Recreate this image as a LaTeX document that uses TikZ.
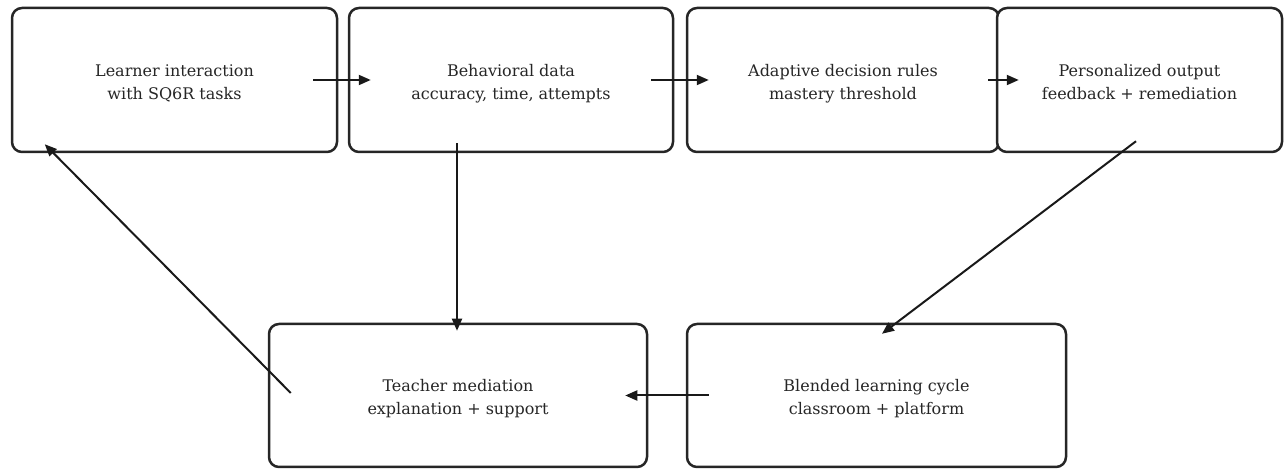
\documentclass[tikz,border=0pt]{standalone}
\usepackage{fontspec}
\setmainfont{DejaVu Serif}
\usetikzlibrary{arrows.meta,calc}
\newcommand{\toppad}{\rule{0pt}{22pt}}
\begin{document}
\begin{tikzpicture}[x=1pt,y=1pt,
  box/.style={draw=black!85, line width=2.5pt, rounded corners=10pt, fill=white,
    minimum height=144pt, align=center, inner sep=0pt,
    font=\fontsize{16}{23}\selectfont, text=black!85},
  arr/.style={draw=black!90, line width=2pt, -{Triangle[length=12pt,width=10pt]}}]
\useasboundingbox (0,0) rectangle (1285,471);
\node[box, minimum width=325pt] (b1) at (174.5,391) {\toppad Learner interaction\\with SQ6R tasks\strut};
\node[box, minimum width=324pt] (b2) at (511,391) {\toppad Behavioral data\\accuracy, time, attempts\strut};
\node[box, minimum width=312pt] (b3) at (843,391) {\toppad Adaptive decision rules\\mastery threshold\strut};
\node[box, minimum width=285pt] (b4) at (1139.5,391) {\toppad Personalized output\\feedback + remediation\strut};
\node[box, minimum width=378pt, minimum height=143pt] (b5) at (458,75.5) {\toppad Teacher mediation\\explanation + support\strut};
\node[box, minimum width=379pt, minimum height=143pt] (b6) at (876.5,75.5) {\toppad Blended learning cycle\\classroom + platform\strut};
\draw[arr] ($(b1.east)+(-25,0)$) -- ($(b2.west)+(23,0)$);
\draw[arr] ($(b2.east)+(-23,0)$) -- ($(b3.west)+(23,0)$);
\draw[arr] ($(b3.east)+(-12,0)$) -- ($(b4.west)+(23,0)$);
\draw[arr] ($(b2.south)+(-54,10)$) -- ($(b5.north)+(-1,-8)$);
\draw[arr] ($(b4.south)+(-3.5,12)$) -- ($(b6.north)+(5.5,-11)$);
\draw[arr] ($(b6.west)+(23,0)$) -- ($(b5.east)+(-23,0)$);
\draw[arr] ($(b5.west)+(23,2.5)$) -- ($(b1.south west)+(34,9)$);
\end{tikzpicture}
\end{document}
